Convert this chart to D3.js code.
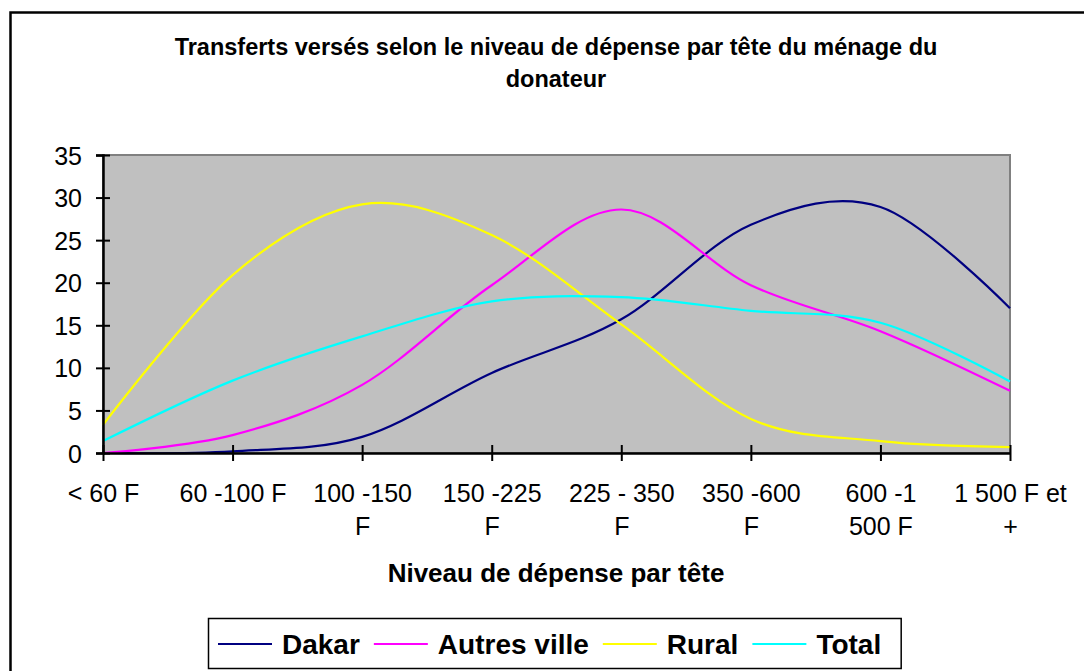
<!DOCTYPE html>
<html>
<head>
<meta charset="utf-8">
<script src="https://cdn.jsdelivr.net/npm/d3@7"></script>
<style>
  body { margin: 0; background: #fff; }
  svg { display: block; }
  text { font-family: "Liberation Sans", Arial, sans-serif; fill: #000; }
</style>
</head>
<body>
<svg id="chart" width="1084" height="671"></svg>
<script>
// Spending brackets (per head) and transfer shares for each zone
const categories = ["< 60 F", "60 -100 F", "100 -150 F", "150 -225 F", "225 - 350 F", "350 -600 F", "600 -1 500 F", "1 500 F et +"];
const dakar       = [0, 0.2, 1.9, 9.4, 15.7, 26.8, 28.9, 17.0];
const autresVille = [0, 2.1, 8.0, 19.7, 28.6, 19.7, 14.3, 7.3];
const rural       = [3.3, 20.9, 29.2, 25.6, 15.1, 4.0, 1.4, 0.7];
const total       = [1.4, 8.5, 13.7, 17.8, 18.3, 16.7, 15.3, 8.4];
const seriesNames = ["Dakar", "Autres ville", "Rural", "Total"];
const seriesColors = ["#000080", "#FF00FF", "#FFFF00", "#00FFFF"];
const yTicks = [0, 5, 10, 15, 20, 25, 30, 35];
const titleLines = ["Transferts versés selon le niveau de dépense par tête du ménage du", "donateur"];
const xTitle = "Niveau de dépense par tête";

const series = seriesNames.map((name, i) => ({
  name,
  color: seriesColors[i],
  values: [dakar, autresVille, rural, total][i]
}));

const svg = d3.select("#chart");

// outer chart frame
svg.append("rect")
  .attr("x", 10.5).attr("y", 12.5)
  .attr("width", 1100).attr("height", 700)
  .attr("fill", "none").attr("stroke", "#000").attr("stroke-width", 2.5);

const plot = { left: 103, right: 1010, top: 155, bottom: 453 };

const x = d3.scalePoint().domain(categories).range([plot.left, plot.right]);
const y = d3.scaleLinear().domain([0, 35]).range([plot.bottom, plot.top]);

// title
const title = svg.append("text")
  .attr("text-anchor", "middle")
  .style("font-size", "23.5px").style("font-weight", "bold");
titleLines.forEach((t, i) => {
  title.append("tspan").attr("x", 556).attr("y", 55 + i * 32).text(t);
});

// plot background
svg.append("rect")
  .attr("x", plot.left).attr("y", plot.top)
  .attr("width", plot.right - plot.left).attr("height", plot.bottom - plot.top)
  .attr("fill", "#C0C0C0").attr("stroke", "#808080").attr("stroke-width", 2);

// series lines (smoothed)
const line = d3.line()
  .x((d, i) => x(categories[i]))
  .y(d => y(d))
  .curve(d3.curveCatmullRom.alpha(0));

svg.append("g").selectAll("path")
  .data(series)
  .join("path")
  .attr("d", d => line(d.values))
  .attr("fill", "none")
  .attr("stroke", d => d.color)
  .attr("stroke-width", 2.2)
  .attr("stroke-linejoin", "round");

// y axis
const yAxis = svg.append("g")
  .attr("transform", `translate(${plot.left},0)`)
  .call(d3.axisLeft(y).tickValues(yTicks).tickSize(7).tickPadding(14));
yAxis.select(".domain").attr("stroke", "#000").attr("stroke-width", 2.5);
yAxis.selectAll(".tick line").attr("x1", 7).attr("x2", -7).attr("stroke", "#000").attr("stroke-width", 2);
yAxis.selectAll(".tick text")
  .style("font-size", "25px").style("font-family", "'Liberation Sans', Arial, sans-serif")
  .attr("dy", "0.36em");

// x axis
const xAxis = svg.append("g")
  .attr("transform", `translate(0,${plot.bottom})`)
  .call(d3.axisBottom(x).tickSize(8).tickSizeOuter(0));
xAxis.select(".domain").attr("stroke", "#000").attr("stroke-width", 2.5);
xAxis.selectAll(".tick line").attr("y1", -8).attr("y2", 8).attr("stroke", "#000").attr("stroke-width", 2);

// wrap category labels to the category width
xAxis.selectAll(".tick text").each(function (d) {
  const el = d3.select(this);
  el.text(null)
    .attr("y", null).attr("dy", null)
    .style("font-size", "25px").style("font-family", "'Liberation Sans', Arial, sans-serif");
  const words = d.split(" ");
  const lines = [];
  let cur = [];
  const probe = el.append("tspan");
  words.forEach(w => {
    const test = cur.concat(w).join(" ");
    probe.text(test);
    if (probe.node().getComputedTextLength() > 116 && cur.length) {
      lines.push(cur.join(" "));
      cur = [w];
    } else {
      cur.push(w);
    }
  });
  lines.push(cur.join(" "));
  probe.remove();
  lines.forEach((l, i) => {
    el.append("tspan").attr("x", 0).attr("y", 49 + i * 33).text(l);
  });
});

// x axis title
svg.append("text")
  .attr("x", 556).attr("y", 582)
  .attr("text-anchor", "middle")
  .style("font-size", "26px").style("font-weight", "bold")
  .text(xTitle);

// legend
const legend = svg.append("g");
const legendBox = legend.append("rect")
  .attr("y", 618.5).attr("height", 50)
  .attr("fill", "#fff").attr("stroke", "#000").attr("stroke-width", 1.5);
let lx = 218;
const legendY = 644;
series.forEach(s => {
  legend.append("line")
    .attr("x1", lx).attr("x2", lx + 54)
    .attr("y1", legendY).attr("y2", legendY)
    .attr("stroke", s.color).attr("stroke-width", 2.2);
  const t = legend.append("text")
    .attr("x", lx + 64).attr("y", legendY + 10)
    .style("font-size", "28px").style("font-weight", "bold")
    .text(s.name);
  lx += 64 + t.node().getComputedTextLength() + 14;
});
const boxLeft = 208.5;
legendBox.attr("x", boxLeft).attr("width", lx - 14 + 10 - boxLeft + 10);
</script>
</body>
</html>
